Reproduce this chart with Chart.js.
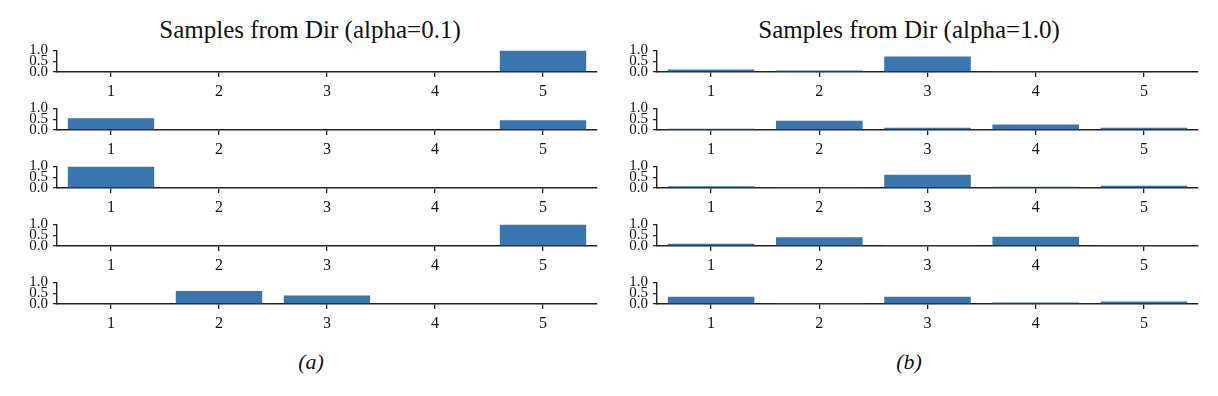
<!DOCTYPE html>
<html>
<head>
<meta charset="utf-8">
<script src="https://cdn.jsdelivr.net/npm/chart.js@4.4.0/dist/chart.umd.min.js"></script>
<style>
body { margin: 0; background: #fff; }
#fig { position: relative; width: 1218px; height: 396px; overflow: hidden;
       font-family: "Liberation Serif", "DejaVu Serif", serif; color: #111; }
#fig canvas { position: absolute; }
.title { position: absolute; font-size: 25px; transform: translate(-50%, -50%); white-space: nowrap; }
.cap { position: absolute; font-size: 22px; font-style: italic; transform: translate(-50%, -50%); }
</style>
</head>
<body>
<div id="fig">
  <div class="title" style="left:310px; top:30px">Samples from Dir (alpha=0.1)</div>
  <div class="title" style="left:909px; top:30px">Samples from Dir (alpha=1.0)</div>
  <div class="cap" style="left:311px; top:362px">(a)</div>
  <div class="cap" style="left:909px; top:362px">(b)</div>
</div>
<script>
// categorias y muestras
var categories = ['1', '2', '3', '4', '5'];
var yTicks = [0, 0.5, 1.0];

// Dir(alpha=0.1), una fila por muestra
var alpha01Row1 = [0, 0, 0, 0, 1.0];
var alpha01Row2 = [0.55, 0, 0, 0, 0.45];
var alpha01Row3 = [1.0, 0, 0, 0, 0];
var alpha01Row4 = [0, 0, 0, 0, 1.0];
var alpha01Row5 = [0, 0.61, 0.39, 0, 0];

// Dir(alpha=1.0)
var alpha10Row1 = [0.12, 0.07, 0.72, 0.02, 0.04];
var alpha10Row2 = [0.06, 0.43, 0.11, 0.26, 0.11];
var alpha10Row3 = [0.08, 0.05, 0.62, 0.06, 0.11];
var alpha10Row4 = [0.10, 0.41, 0.02, 0.43, 0.02];
var alpha10Row5 = [0.34, 0.05, 0.34, 0.07, 0.12];

var leftRows = [alpha01Row1, alpha01Row2, alpha01Row3, alpha01Row4, alpha01Row5];
var rightRows = [alpha10Row1, alpha10Row2, alpha10Row3, alpha10Row4, alpha10Row5];

var barColor = '#3a75af';
var axisColor = '#222';
var rowBase = [72, 130, 188, 246, 304];
var plotH = 24;
var padTop = 10;
var canvasH = 72;

var fig = document.getElementById('fig');

// dibuja una fila (un subplot) con su propio canvas
function makeRow(left, right, base, values) {
    var cv = document.createElement('canvas');
    cv.width = 600;
    cv.height = canvasH;
    cv.style.left = left + 'px';
    cv.style.top = (base - plotH - padTop) + 'px';
    fig.appendChild(cv);

    return new Chart(cv, {
        type: 'bar',
        data: {
            labels: categories,
            datasets: [{
                data: values,
                backgroundColor: barColor,
                borderWidth: 0,
                barPercentage: 1.0,
                categoryPercentage: 0.8
            }]
        },
        options: {
            responsive: false,
            animation: false,
            devicePixelRatio: 1,
            layout: { padding: { top: padTop, left: 0, right: right, bottom: 0 } },
            plugins: { legend: { display: false }, tooltip: { enabled: false } },
            scales: {
                x: {
                    type: 'category',
                    offset: true,
                    grid: { offset: false, drawOnChartArea: false, drawTicks: true,
                            tickLength: 5, color: axisColor, lineWidth: 1.3 },
                    border: { display: true, color: axisColor, width: 1.4 },
                    ticks: { color: '#111', padding: 5, maxRotation: 0, autoSkip: false,
                             font: { family: '"Liberation Serif", serif', size: 16 } },
                    afterFit: function (s) { s.height = canvasH - padTop - plotH; }
                },
                y: {
                    min: 0,
                    max: 1,
                    grid: { drawOnChartArea: false, drawTicks: true, tickLength: 4,
                            color: axisColor, lineWidth: 1.3 },
                    border: { display: true, color: axisColor, width: 1.4 },
                    ticks: { color: '#111', padding: 5, autoSkip: false,
                             font: { family: '"Liberation Serif", serif', size: 15, lineHeight: 1 },
                             callback: function (v) { return Number(v).toFixed(1); } },
                    afterBuildTicks: function (s) { s.ticks = yTicks.map(function (v) { return { value: v }; }); },
                    afterFit: function (s) { s.width = 57; }
                }
            }
        }
    });
}

for (let i = 0; i < leftRows.length; i++) {
    makeRow(0, 3, rowBase[i], leftRows[i]);
    makeRow(600, 2, rowBase[i], rightRows[i]);
}
</script>
</body>
</html>
